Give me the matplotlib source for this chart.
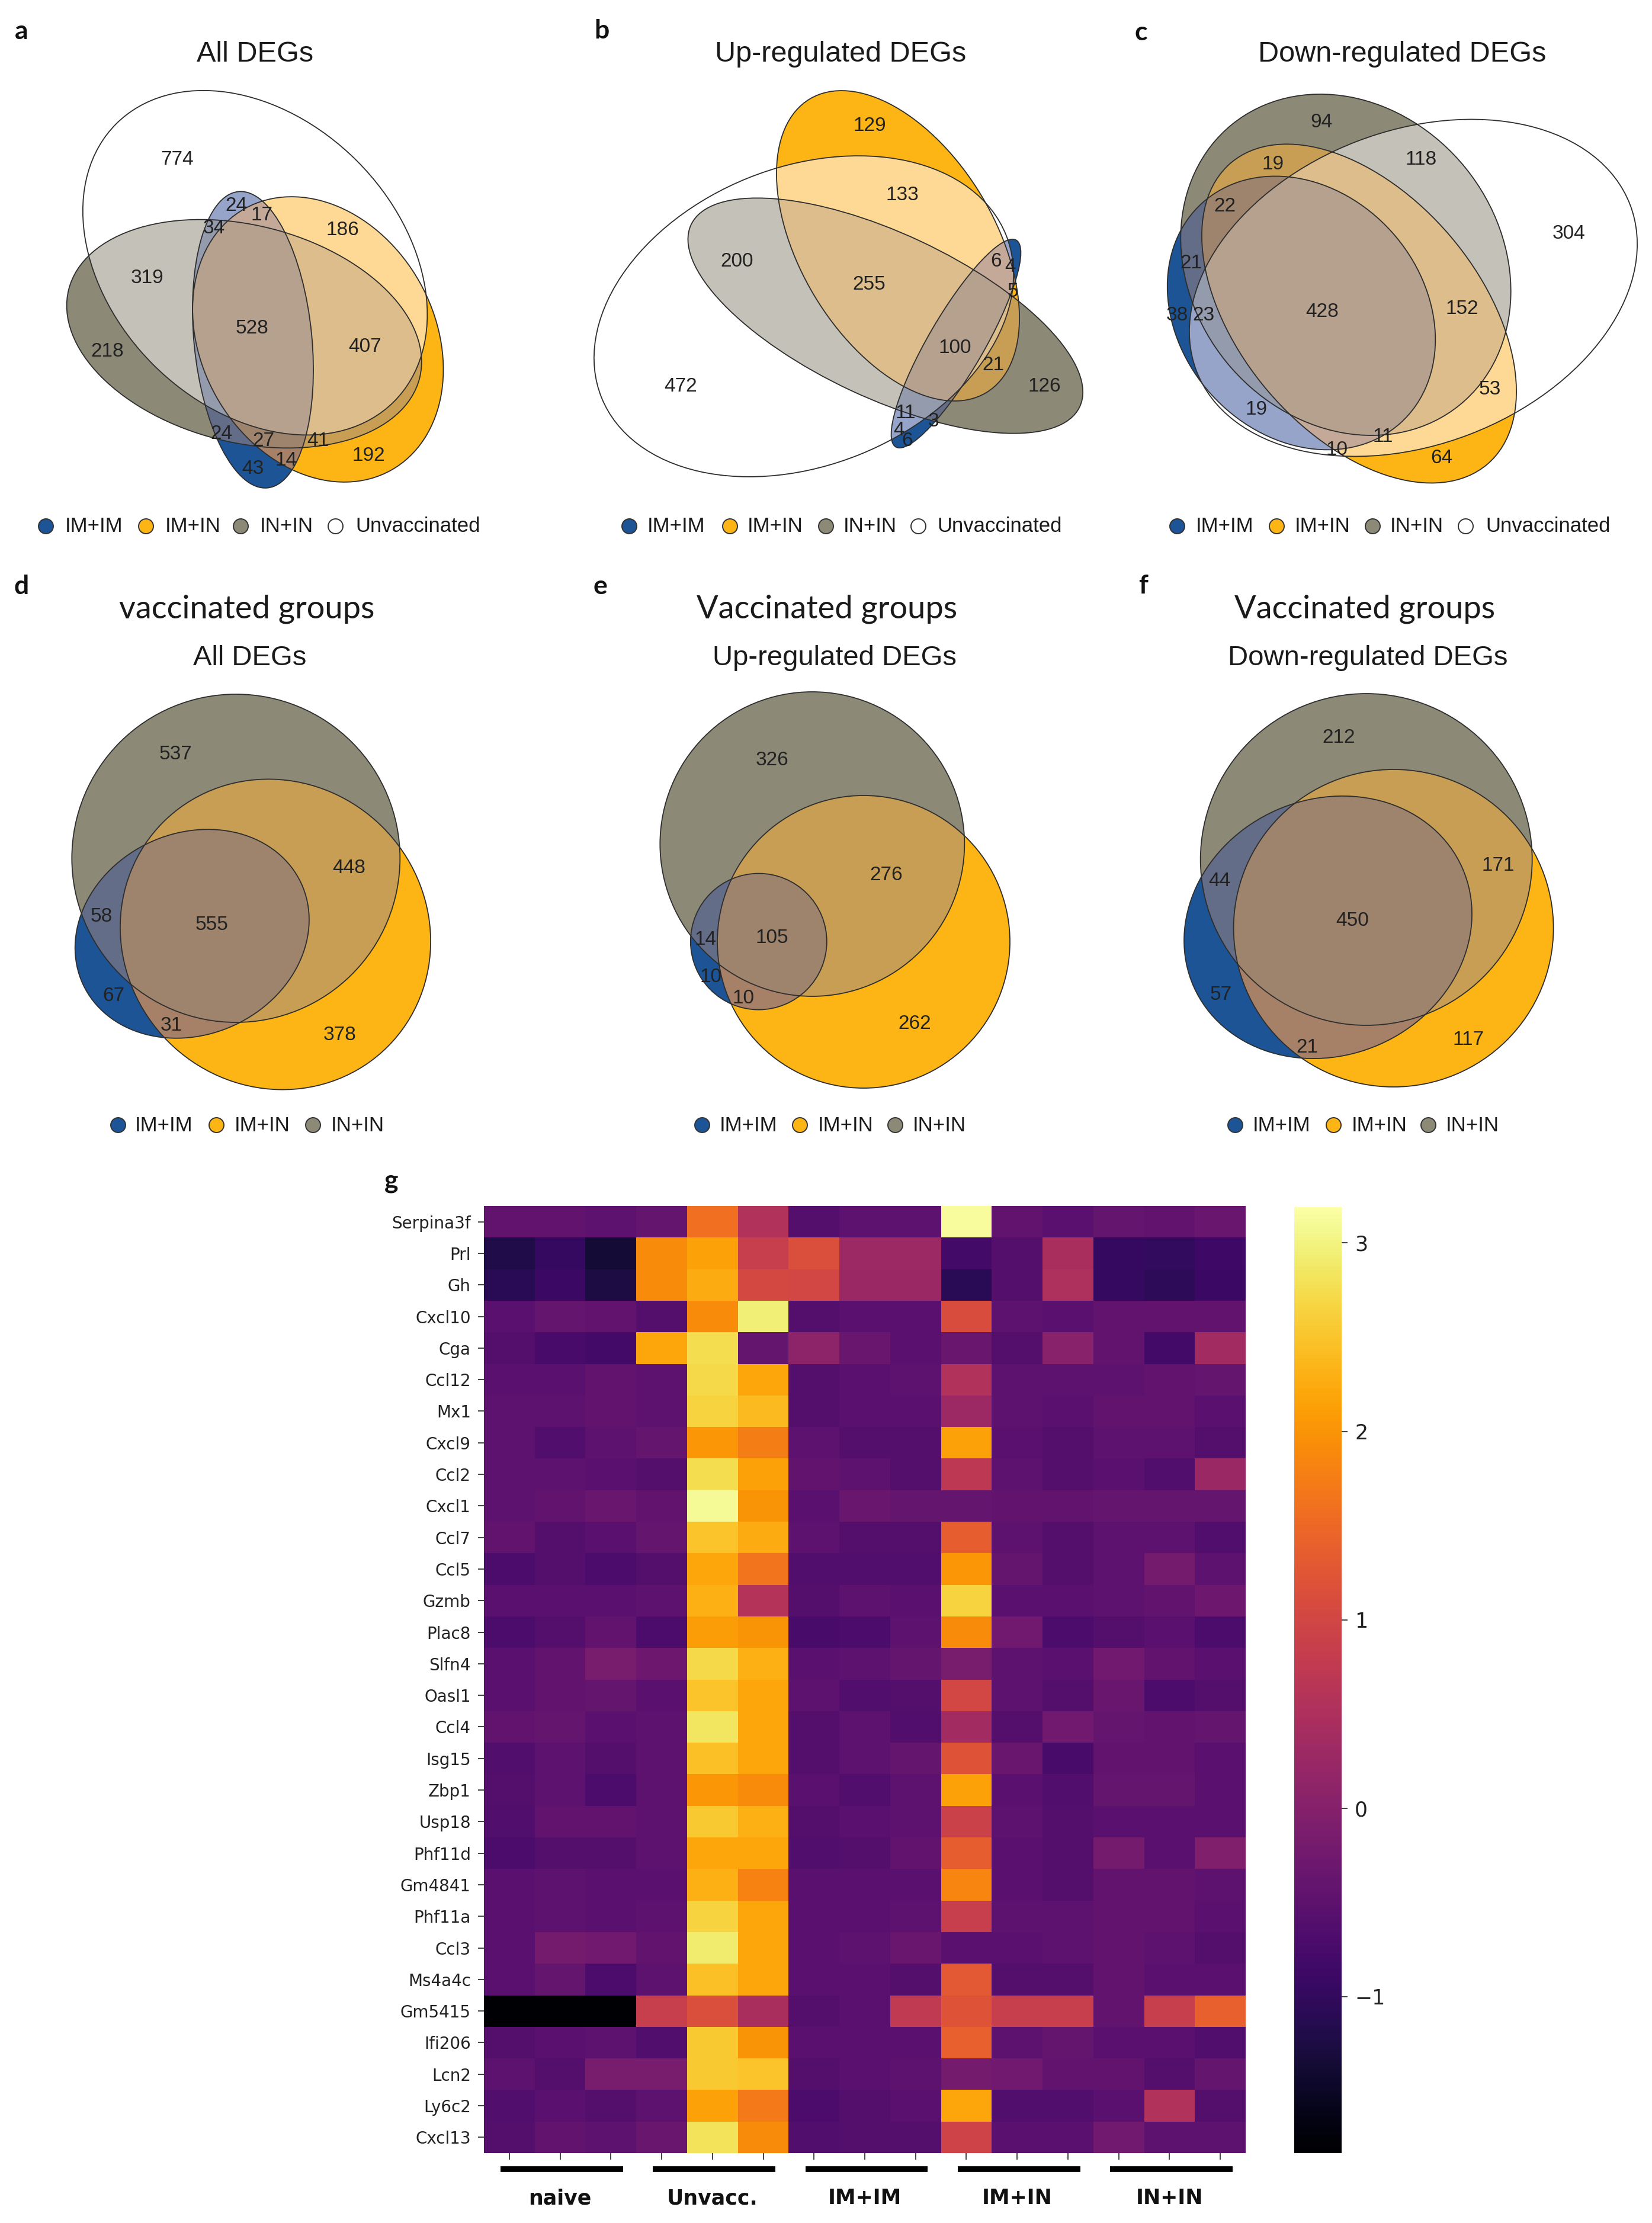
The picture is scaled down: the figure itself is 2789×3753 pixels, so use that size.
import numpy as np
import matplotlib
matplotlib.use("Agg")
import matplotlib.pyplot as plt
from matplotlib.patches import Ellipse

plt.rcParams["font.family"] = ["Liberation Sans", "DejaVu Sans"]

# ---- data -------------------------------------------------------------
set_names4 = ["IM+IM", "IM+IN", "IN+IN", "Unvaccinated"]
set_names3 = ["IM+IM", "IM+IN", "IN+IN"]
set_colors = ["#1c5496", "#fdb515", "#8c8977", "#ffffff"]

# region counts (Euler diagrams)
counts_a = [774, 24, 17, 34, 186, 319, 528, 218, 407, 24, 27, 41, 192, 14, 43]
counts_b = [129, 133, 200, 255, 472, 6, 4, 5, 100, 21, 126, 11, 3, 4, 6]
counts_c = [94, 118, 19, 22, 304, 21, 38, 23, 428, 152, 53, 19, 11, 10, 64]
counts_d = [537, 448, 58, 555, 67, 31, 378]
counts_e = [326, 276, 14, 105, 10, 10, 262]
counts_f = [212, 171, 44, 450, 57, 21, 117]

# heatmap
genes = ["Serpina3f", "Prl", "Gh", "Cxcl10", "Cga", "Ccl12", "Mx1", "Cxcl9",
         "Ccl2", "Cxcl1", "Ccl7", "Ccl5", "Gzmb", "Plac8", "Slfn4", "Oasl1",
         "Ccl4", "Isg15", "Zbp1", "Usp18", "Phf11d", "Gm4841", "Phf11a",
         "Ccl3", "Ms4a4c", "Gm5415", "Ifi206", "Lcn2", "Ly6c2", "Cxcl13"]
groups = ["naive", "Unvacc.", "IM+IM", "IM+IN", "IN+IN"]
heat = [
    [-0.45, -0.45, -0.50, -0.40, 1.60, 0.55, -0.60, -0.50, -0.50, 3.15, -0.45, -0.55, -0.40, -0.45, -0.35],
    [-1.20, -0.95, -1.35, 1.90, 2.15, 0.85, 1.15, 0.30, 0.30, -0.80, -0.60, 0.45, -0.95, -1.00, -0.85],
    [-1.10, -0.90, -1.25, 1.90, 2.25, 1.05, 1.00, 0.25, 0.25, -1.10, -0.60, 0.50, -0.95, -1.05, -0.90],
    [-0.55, -0.40, -0.45, -0.60, 1.90, 2.95, -0.60, -0.55, -0.55, 1.10, -0.50, -0.55, -0.45, -0.45, -0.45],
    [-0.60, -0.75, -0.80, 2.20, 2.75, -0.40, 0.10, -0.35, -0.55, -0.35, -0.60, 0.05, -0.45, -0.80, 0.35],
    [-0.55, -0.55, -0.45, -0.50, 2.70, 2.20, -0.60, -0.55, -0.50, 0.55, -0.50, -0.50, -0.50, -0.45, -0.40],
    [-0.50, -0.50, -0.45, -0.50, 2.65, 2.40, -0.60, -0.55, -0.55, 0.30, -0.50, -0.55, -0.45, -0.45, -0.55],
    [-0.50, -0.65, -0.50, -0.40, 2.05, 1.75, -0.50, -0.60, -0.60, 2.15, -0.55, -0.60, -0.50, -0.50, -0.60],
    [-0.50, -0.50, -0.55, -0.60, 2.75, 2.15, -0.45, -0.50, -0.60, 0.70, -0.50, -0.60, -0.55, -0.65, 0.25],
    [-0.50, -0.45, -0.35, -0.45, 3.10, 2.00, -0.55, -0.35, -0.40, -0.40, -0.45, -0.45, -0.40, -0.40, -0.40],
    [-0.45, -0.60, -0.55, -0.40, 2.50, 2.25, -0.50, -0.60, -0.60, 1.35, -0.50, -0.60, -0.50, -0.50, -0.65],
    [-0.70, -0.60, -0.70, -0.60, 2.20, 1.65, -0.65, -0.65, -0.65, 2.05, -0.40, -0.60, -0.50, -0.20, -0.50],
    [-0.55, -0.55, -0.55, -0.50, 2.30, 0.60, -0.60, -0.50, -0.55, 2.65, -0.55, -0.55, -0.50, -0.45, -0.30],
    [-0.70, -0.60, -0.45, -0.70, 2.10, 2.00, -0.75, -0.70, -0.50, 1.90, -0.25, -0.70, -0.60, -0.55, -0.70],
    [-0.55, -0.45, -0.15, -0.30, 2.70, 2.30, -0.55, -0.50, -0.40, -0.15, -0.50, -0.55, -0.25, -0.45, -0.55],
    [-0.55, -0.45, -0.40, -0.55, 2.50, 2.20, -0.50, -0.65, -0.60, 1.00, -0.50, -0.60, -0.35, -0.70, -0.60],
    [-0.45, -0.40, -0.55, -0.50, 2.85, 2.20, -0.60, -0.50, -0.65, 0.35, -0.60, -0.25, -0.40, -0.45, -0.40],
    [-0.65, -0.50, -0.60, -0.50, 2.45, 2.20, -0.60, -0.50, -0.40, 1.20, -0.35, -0.75, -0.45, -0.45, -0.55],
    [-0.60, -0.50, -0.70, -0.50, 2.05, 1.90, -0.55, -0.65, -0.50, 2.15, -0.55, -0.65, -0.40, -0.40, -0.55],
    [-0.65, -0.45, -0.45, -0.50, 2.55, 2.30, -0.60, -0.55, -0.50, 0.90, -0.50, -0.60, -0.55, -0.55, -0.55],
    [-0.70, -0.60, -0.60, -0.50, 2.20, 2.20, -0.65, -0.60, -0.45, 1.35, -0.55, -0.60, -0.20, -0.55, -0.05],
    [-0.55, -0.50, -0.55, -0.55, 2.30, 1.80, -0.55, -0.55, -0.55, 1.85, -0.55, -0.60, -0.45, -0.45, -0.50],
    [-0.55, -0.50, -0.55, -0.50, 2.65, 2.20, -0.55, -0.55, -0.50, 0.85, -0.50, -0.50, -0.45, -0.45, -0.55],
    [-0.55, -0.20, -0.25, -0.45, 2.90, 2.20, -0.55, -0.50, -0.35, -0.55, -0.55, -0.50, -0.45, -0.50, -0.60],
    [-0.55, -0.40, -0.70, -0.50, 2.45, 2.20, -0.55, -0.55, -0.60, 1.30, -0.60, -0.60, -0.45, -0.55, -0.55],
    [-1.83, -1.83, -1.83, 0.85, 1.15, 0.45, -0.60, -0.55, 0.75, 1.20, 0.85, 0.85, -0.45, 0.85, 1.40],
    [-0.60, -0.55, -0.50, -0.65, 2.55, 2.00, -0.55, -0.55, -0.55, 1.40, -0.50, -0.40, -0.55, -0.55, -0.65],
    [-0.50, -0.60, -0.15, -0.15, 2.55, 2.50, -0.60, -0.55, -0.50, -0.20, -0.25, -0.45, -0.45, -0.60, -0.40],
    [-0.65, -0.55, -0.60, -0.50, 2.15, 1.70, -0.70, -0.60, -0.55, 2.20, -0.65, -0.65, -0.55, 0.55, -0.60],
    [-0.60, -0.45, -0.50, -0.35, 2.80, 1.90, -0.65, -0.60, -0.60, 0.95, -0.55, -0.55, -0.25, -0.50, -0.50],
]

# ---- layout (reference pixel coordinates) -----------------------------
W, H = 2789, 3753
# ellipses: (cx, cy, semi-a, semi-b, angle) in set order IM+IM, IM+IN, IN+IN, Unvacc
ell_a = [(427, 573.6, 251.3, 99.5, 84.4), (536.8, 573, 253, 197, 60.8),
         (412.2, 563.5, 305.5, 183.3, 14.2), (430.6, 443.6, 331.6, 243.2, 45)]
ell_b = [(1614, 580, 202, 47, -59.8), (1516, 415, 289.2, 164.4, 59),
         (1494.8, 533, 362.3, 139, 25.1), (1357, 534, 368, 251.7, -21.9)]
ell_c = [(2197, 528.4, 250, 205, 48), (2294.5, 529.4, 334, 202, 49.6),
         (2272, 447, 305, 260, 51), (2386, 486, 392, 265, -21)]
ell_d = [(324.3, 1576.5, 203, 170, -24.8), (465, 1577.5, 268, 256, 45),
         (398.3, 1449, 277, 277, 0)]
ell_e = [(1280.8, 1589.6, 115, 115, 0), (1458, 1590, 247, 247, 0),
         (1371.3, 1425, 257, 257, 0)]
ell_f = [(2242, 1565.5, 247.9, 216.1, -23.8), (2352.6, 1567, 270, 268, 0),
         (2306.7, 1451, 280, 280, 0)]

pos_a = [(299.5, 270), (398.6, 347), (441.9, 363), (361.8, 385.5), (578.3, 388.5),
         (249, 470), (425.9, 554.6), (181, 593), (615.7, 586), (373.7, 732.5),
         (444.8, 744.4), (536.8, 744.4), (622.8, 770), (483.4, 777), (427, 791.8)]
pos_b = [(1468.5, 212.3), (1523, 329.2), (1244.3, 441.9), (1466.8, 480.4), (1149.5, 652.4),
         (1682, 442), (1705.8, 450.8), (1710, 492.3), (1612, 587.2), (1677.3, 616.8),
         (1763.3, 652.4), (1529, 697), (1576.5, 711.7), (1517.2, 726.6), (1532, 744.4)]
pos_c = [(2230.7, 206.4), (2398.6, 269.9), (2148.9, 277.6), (2067.6, 348.8), (2648.8, 394.4),
         (2011.2, 444.8), (1987.5, 532.6), (2032, 532.6), (2232.5, 526.7), (2468, 522),
         (2515.4, 657.2), (2121, 691), (2334.5, 737.2), (2257.4, 759.2), (2434.1, 774)]
pos_d = [(296.6, 1274), (589, 1465.3), (170.8, 1548), (357.7, 1561), (191.6, 1682),
         (288.8, 1731), (574, 1747)]
pos_e = [(1303.7, 1283.5), (1496.4, 1478), (1191, 1586.5), (1303.7, 1583), (1199.9, 1650),
         (1255, 1685.3), (1543.9, 1728.7)]
pos_f = [(2259.9, 1245.3), (2529.4, 1462), (2058.5, 1487.6), (2283.6, 1554.6), (2061.4, 1679),
         (2206.6, 1768.2), (2479, 1755.5)]


def srgb_to_lab(rgb):
    rgb = np.asarray(rgb, float)
    lin = np.where(rgb <= 0.04045, rgb / 12.92, ((rgb + 0.055) / 1.055) ** 2.4)
    M = np.array([[0.4124, 0.3576, 0.1805], [0.2126, 0.7152, 0.0722], [0.0193, 0.1192, 0.9505]])
    xyz = M @ lin / np.array([0.95047, 1.0, 1.08883])
    d = 6 / 29
    f = np.where(xyz > d ** 3, np.cbrt(xyz), xyz / (3 * d * d) + 4 / 29)
    return np.array([116 * f[1] - 16, 500 * (f[0] - f[1]), 200 * (f[1] - f[2])])


def lab_to_srgb(lab):
    L, a, b = lab
    fy = (L + 16) / 116
    f = np.array([fy + a / 500, fy, fy - b / 200])
    d = 6 / 29
    xyz = np.where(f > d, f ** 3, 3 * d * d * (f - 4 / 29)) * np.array([0.95047, 1.0, 1.08883])
    Minv = np.linalg.inv(np.array([[0.4124, 0.3576, 0.1805], [0.2126, 0.7152, 0.0722],
                                   [0.0193, 0.1192, 0.9505]]))
    lin = np.clip(Minv @ xyz, 0, 1)
    rgb = np.where(lin <= 0.0031308, 12.92 * lin, 1.055 * lin ** (1 / 2.4) - 0.055)
    return np.clip(rgb, 0, 1)


def mix(cols):
    if len(cols) == 1:
        return np.array(matplotlib.colors.to_rgb(cols[0]))
    labs = [srgb_to_lab(matplotlib.colors.to_rgb(c)) for c in cols]
    return lab_to_srgb(np.mean(labs, axis=0))


def draw_venn(ax, ells, cols):
    x0 = int(min(e[0] - max(e[2], e[3]) for e in ells)) - 4
    x1 = int(max(e[0] + max(e[2], e[3]) for e in ells)) + 4
    y0 = int(min(e[1] - max(e[2], e[3]) for e in ells)) - 4
    y1 = int(max(e[1] + max(e[2], e[3]) for e in ells)) + 4
    X, Y = np.meshgrid(np.arange(x0, x1) + 0.5, np.arange(y0, y1) + 0.5)
    code = np.zeros(X.shape, int)
    for i, (cx, cy, a, b, ang) in enumerate(ells):
        t = np.deg2rad(ang)
        dx, dy = X - cx, Y - cy
        u = dx * np.cos(t) + dy * np.sin(t)
        v = -dx * np.sin(t) + dy * np.cos(t)
        code |= (((u / a) ** 2 + (v / b) ** 2) <= 1).astype(int) << i
    img = np.zeros(X.shape + (4,))
    for c in np.unique(code):
        if c == 0:
            continue
        members = [cols[i] for i in range(len(ells)) if (c >> i) & 1]
        img[code == c] = list(mix(members)) + [1.0]
    ax.imshow(img, extent=(x0, x1, y1, y0), interpolation="nearest", aspect="auto", zorder=1)
    for (cx, cy, a, b, ang) in ells:
        ax.add_patch(Ellipse((cx, cy), 2 * a, 2 * b, angle=ang, fill=False,
                             ec="#2e2e2e", lw=1.3, zorder=2))


fig = plt.figure(figsize=(W / 100, H / 100), dpi=100)
ov = fig.add_axes([0, 0, 1, 1])
ov.axis("off")

panels = [
    (ell_a, counts_a, pos_a), (ell_b, counts_b, pos_b), (ell_c, counts_c, pos_c),
    (ell_d, counts_d, pos_d), (ell_e, counts_e, pos_e), (ell_f, counts_f, pos_f),
]
for ells, cnts, pos in panels:
    draw_venn(ov, ells, set_colors[:len(ells)])
    for n, (x, y) in zip(cnts, pos):
        ov.text(x, y, str(n), ha="center", va="center", fontsize=24, color="#222222", zorder=3)

# panel letters
letters = [("a", 36, 53), ("b", 1016, 52), ("c", 1926, 55), ("d", 36, 990),
           ("e", 1013, 990), ("f", 1930, 989), ("g", 661, 1994)]
for t, x, y in letters:
    ov.text(x, y, t, ha="center", va="center", fontsize=32, fontweight="bold",
            family=["Lato", "DejaVu Sans"], color="#111111")

# titles
for t, x in [("All DEGs", 431), ("Up-regulated DEGs", 1419), ("Down-regulated DEGs", 2367)]:
    ov.text(x, 92, t, ha="center", va="center", fontsize=35, color="#1a1a1a")
for t1, t2, x1, x2 in [("vaccinated groups", "All DEGs", 417, 422),
                       ("Vaccinated groups", "Up-regulated DEGs", 1396, 1409),
                       ("Vaccinated groups", "Down-regulated DEGs", 2304, 2309)]:
    ov.text(x1, 1028, t1, ha="center", va="center", fontsize=39,
            family=["Lato", "DejaVu Sans"], color="#1a1a1a")
    ov.text(x2, 1111, t2, ha="center", va="center", fontsize=34, color="#1a1a1a")

# legends
legends = [
    (888, [77, 246, 406, 566], [110, 279, 439, 600], set_names4),
    (888, [1062, 1232, 1394, 1550], [1093, 1262, 1424, 1582], set_names4),
    (888, [1987, 2155, 2317, 2474], [2019, 2186, 2347, 2508], set_names4),
    (1899, [199, 365, 528], [228, 396, 559], set_names3),
    (1899, [1185, 1350, 1511], [1215, 1381, 1541], set_names3),
    (1899, [2085, 2251, 2411], [2115, 2282, 2441], set_names3),
]
for y, mx, tx, names in legends:
    for i, name in enumerate(names):
        ov.plot([mx[i]], [y], "o", ms=18, mfc=set_colors[i], mec="#333333", mew=1.4, zorder=3)
        ov.text(tx[i], y + 1, name, ha="left", va="center", fontsize=25, color="#1a1a1a")

ov.set_xlim(0, W)
ov.set_ylim(H, 0)

# ---- heatmap ----------------------------------------------------------
hx0, hx1, hy0, hy1 = 817, 2103, 2036, 3635
axh = fig.add_axes([hx0 / W, 1 - hy1 / H, (hx1 - hx0) / W, (hy1 - hy0) / H])
vals = np.array(heat)
nr, nc = vals.shape
mesh = axh.pcolormesh(vals, cmap="inferno", vmin=-1.83, vmax=3.19)
axh.set_xlim(0, nc)
axh.set_ylim(nr, 0)
axh.set_yticks(np.arange(nr) + 0.5)
axh.set_yticklabels(genes, fontsize=20, family="DejaVu Sans", color="#222222")
axh.set_xticks(np.arange(nc) + 0.5)
axh.set_xticklabels([])
axh.tick_params(axis="y", length=7, width=1.3, color="#333333", pad=9)
axh.tick_params(axis="x", length=8, width=1.3, color="#333333")
for s in axh.spines.values():
    s.set_visible(False)

row_h = (hy1 - hy0) / nr
bar_y = nr + (3662 - hy1) / row_h
lab_y = nr + (3711 - hy1) / row_h
for gi, g in enumerate(groups):
    axh.plot([gi * 3 + 0.33, gi * 3 + 2.74], [bar_y, bar_y], color="black", lw=7,
             solid_capstyle="butt", clip_on=False)
    axh.text(gi * 3 + 1.5, lab_y, g, ha="center", va="center", fontsize=25,
             fontweight="bold", family="DejaVu Sans", color="#111111")

cax = fig.add_axes([2185 / W, 1 - 3635 / H, 80 / W, (3635 - 2038) / H])
cb = fig.colorbar(mesh, cax=cax)
cb.outline.set_visible(False)
cb.set_ticks([-1, 0, 1, 2, 3])
cax.tick_params(labelsize=25, length=7, width=1.3, color="#333333", pad=9, labelcolor="#222222")
for lab in cax.get_yticklabels():
    lab.set_family("DejaVu Sans")

fig.savefig("out.png", dpi=100)
